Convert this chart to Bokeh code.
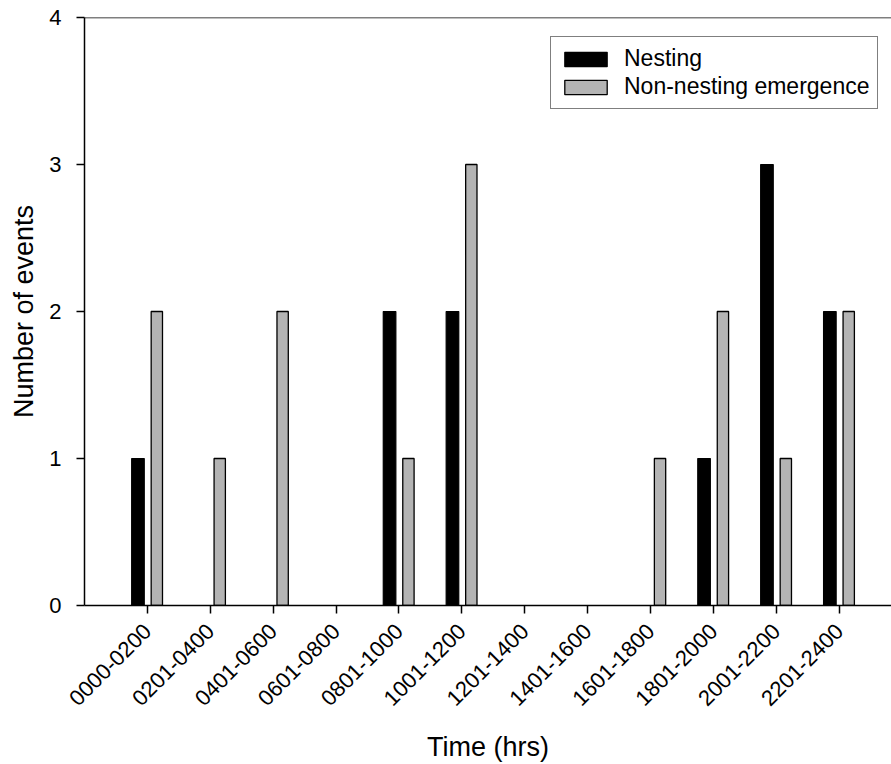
import math
from bokeh.plotting import figure
from bokeh.models import (ColumnDataSource, Range1d, FixedTicker, Span, Legend, LegendItem,
                          CDSView, BooleanFilter)
from bokeh.transform import dodge
from bokeh.embed import file_html
from bokeh.resources import INLINE

categories = ["0000-0200", "0201-0400", "0401-0600", "0601-0800", "0801-1000",
              "1001-1200", "1201-1400", "1401-1600", "1601-1800", "1801-2000",
              "2001-2200", "2201-2400"]
nesting = [1, 0, 0, 0, 2, 2, 0, 0, 0, 1, 3, 2]
non_nesting = [2, 1, 2, 0, 1, 3, 0, 0, 1, 2, 1, 2]
y_ticks = [0, 1, 2, 3, 4]

FONT = "Liberation Sans"

src = ColumnDataSource(dict(x=list(range(len(categories))), cat=categories,
                            nesting=nesting, non_nesting=non_nesting))
view1 = CDSView(filter=BooleanFilter([v > 0 for v in nesting]))
view2 = CDSView(filter=BooleanFilter([v > 0 for v in non_nesting]))

p = figure(width=891, height=764, output_backend="svg", toolbar_location=None,
           x_range=Range1d(-1, 11.83), y_range=Range1d(0, 4),
           min_border_left=84, min_border_top=17, min_border_bottom=158, min_border_right=0)
p.outline_line_color = None
p.grid.visible = False
p.background_fill_color = "white"

r1 = p.vbar(x=dodge("x", -0.15), top="nesting", width=0.2, source=src, view=view1,
            fill_color="black", line_color="black", line_width=1.2)
r2 = p.vbar(x=dodge("x", 0.15), top="non_nesting", width=0.18, source=src, view=view2,
            fill_color="#b4b4b4", line_color="black", line_width=1.3)

p.add_layout(Span(location=4, dimension="width", line_color="black", line_width=1.5))

p.xaxis.ticker = FixedTicker(ticks=list(range(len(categories))))
p.xaxis.major_label_overrides = {i: c for i, c in enumerate(categories)}
p.xaxis.major_label_orientation = math.pi / 4
p.yaxis.ticker = FixedTicker(ticks=y_ticks)

for ax in (p.xaxis[0], p.yaxis[0]):
    ax.axis_line_color = "black"
    ax.axis_line_width = 1.5
    ax.major_tick_line_color = "black"
    ax.major_tick_line_width = 1.5
    ax.major_tick_in = 0
    ax.major_tick_out = 8
    ax.minor_tick_line_color = None
    ax.major_label_text_font = FONT
    ax.major_label_text_font_size = "22px"
    ax.major_label_text_color = "black"
    ax.axis_label_text_font = FONT
    ax.axis_label_text_font_size = "27px"
    ax.axis_label_text_font_style = "normal"
    ax.axis_label_text_color = "black"

p.xaxis.axis_label = "Time (hrs)"
p.yaxis.axis_label = "Number of events"
p.yaxis.major_label_standoff = 15
p.yaxis.axis_label_standoff = 7
p.xaxis.major_label_standoff = 14
p.xaxis.axis_label_standoff = 16

legend = Legend(items=[LegendItem(label="Nesting", renderers=[r1]),
                       LegendItem(label="Non-nesting emergence", renderers=[r2])],
                location=(466, 496))
legend.label_text_font = FONT
legend.label_text_font_size = "23px"
legend.label_text_color = "black"
legend.glyph_width = 53
legend.glyph_height = 18
legend.label_height = 24
legend.label_standoff = 12
legend.spacing = 1
legend.padding = 8
legend.border_line_color = "black"
legend.border_line_width = 1.5
legend.background_fill_alpha = 1
p.add_layout(legend)

open("out.html", "w").write(file_html(p, INLINE))
